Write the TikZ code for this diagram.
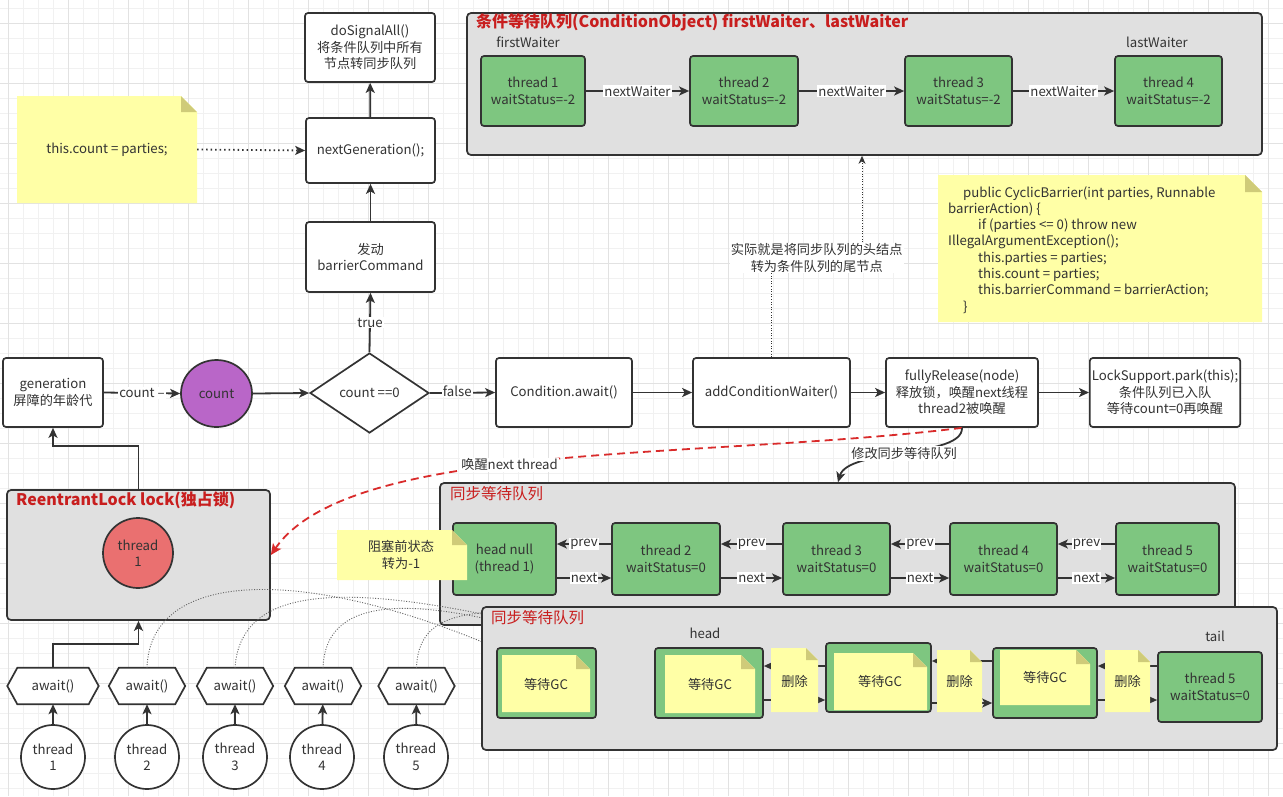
\documentclass[tikz,border=0pt]{standalone}
\usepackage{fontspec}
\setmainfont{Noto Sans CJK SC}
\usetikzlibrary{arrows.meta,shapes.geometric,calc}
\definecolor{dk}{HTML}{333333}
\definecolor{txt}{HTML}{333333}
\definecolor{gfill}{HTML}{7EC680}
\definecolor{contf}{HTML}{E0E0E0}
\definecolor{notef}{HTML}{FFFFA6}
\definecolor{foldf}{HTML}{CFCB79}
\definecolor{ttl}{HTML}{C81E1E}
\definecolor{purp}{HTML}{B966C8}
\definecolor{redc}{HTML}{EA7070}
\definecolor{redl}{HTML}{D92B2B}
\definecolor{gmin}{HTML}{F1F1F1}
\definecolor{gmaj}{HTML}{E2E2E2}
\definecolor{dotc}{HTML}{666666}
\newcommand\fs{\fontsize{13.2}{16.5}\selectfont}
\newcommand\ttlf{\fontsize{16}{19}\selectfont\bfseries}
\newcommand\ttlr{\fontsize{15.5}{19}\selectfont}
\newcommand\codef{\fontsize{13.2}{16.3}\selectfont}
\newcommand\mynote[5]{%
  \fill[notef] (#1,#2) -- ({#3-#5},#2) -- (#3,{#2+#5}) -- (#3,#4) -- (#1,#4) -- cycle;
  \fill[foldf] ({#3-#5},#2) -- (#3,{#2+#5}) -- ({#3-#5},{#2+#5}) -- cycle;}
\newcommand\hexa[2]{\draw[draw=dk, line width=1.7pt, fill=white] (#1.west) -- ([xshift=#2]#1.north west) -- ([xshift=-#2]#1.north east) -- (#1.east) -- ([xshift=-#2]#1.south east) -- ([xshift=#2]#1.south west) -- cycle;}
\tikzset{
  base/.style={draw=dk, line width=1.7pt, rounded corners=3pt, align=center, text=txt, font=\fs, inner sep=2pt},
  wbox/.style={base, fill=white},
  gbox/.style={base, fill=gfill},
  cont/.style={draw=dk, line width=1.7pt, rounded corners=4pt, fill=contf},
  arr/.style={draw=dk, line width=1.8pt, -{Stealth[length=10pt,width=9pt,inset=2.5pt]}},
  wl/.style={fill=white, inner sep=1pt, text=txt, font=\fs, align=center},
  plain/.style={text=txt, font=\fs, align=center, inner sep=0pt},
  dotarr/.style={draw=dk, line width=0.9pt, dash pattern=on 1pt off 1.6pt, -{Stealth[length=8pt,width=7pt]}},
  dotcurve/.style={draw=dotc, line width=0.9pt, dash pattern=on 1pt off 1.6pt},
  thr/.style={circle, draw=dk, line width=1.7pt, fill=white, minimum size=64pt, align=center, font=\fs, text=txt, inner sep=0pt},
  hexn/.style={minimum height=36pt, inner sep=0pt},
}
\begin{document}
\begin{tikzpicture}[x=1pt,y=-1pt]
\useasboundingbox (0,0) rectangle (1283,796);
\fill[white] (0,0) rectangle (1283,796);
% grid
\foreach \xx in {8.3,23.3,...,1283} {\draw[gmin, line width=0.75pt] (\xx,0) -- (\xx,796);}
\foreach \yy in {8.3,23.3,...,796} {\draw[gmin, line width=0.75pt] (0,\yy) -- (1283,\yy);}
\foreach \xx in {8.3,68.3,...,1283} {\draw[gmaj, line width=0.75pt] (\xx,0) -- (\xx,796);}
\foreach \yy in {23.3,83.3,...,796} {\draw[gmaj, line width=0.75pt] (0,\yy) -- (1283,\yy);}

% ---------- condition queue ----------
\node[cont, minimum width=795pt, minimum height=142pt] (cq) at (864.5,84) {};
\node[anchor=west, text=ttl, font=\ttlf, inner sep=0pt] (cqt) at (476,22) {条件等待队列(ConditionObject) firstWaiter、lastWaiter};
\node[plain] (fw) at (528,42) {firstWaiter};
\node[plain] (lw) at (1157,42) {lastWaiter};
\node[gbox, minimum width=104pt, minimum height=70pt] (c1) at (533,91) {thread 1\\waitStatus=-2};
\node[gbox, minimum width=108pt, minimum height=70pt] (c2) at (744,91) {thread 2\\waitStatus=-2};
\node[gbox, minimum width=107pt, minimum height=70pt] (c3) at (958.5,91) {thread 3\\waitStatus=-2};
\node[gbox, minimum width=107pt, minimum height=70pt] (c4) at (1168.5,91) {thread 4\\waitStatus=-2};
\draw[arr] (c1) -- node[wl]{nextWaiter} (c2);
\draw[arr] (c2) -- node[wl]{nextWaiter} (c3);
\draw[arr] (c3) -- node[wl]{nextWaiter} (c4);

% ---------- top column ----------
\node[wbox, minimum width=130pt, minimum height=69pt] (dsa) at (370,47.5) {doSignalAll()\\将条件队列中所有\\节点转同步队列};
\node[wbox, minimum width=129pt, minimum height=65pt] (ng) at (370.5,150.5) {nextGeneration();};
\node[wbox, minimum width=129pt, minimum height=70pt] (bc) at (370.5,257) {发动\\barrierCommand};
\draw[arr] (ng) -- (dsa);
\draw[arr] (bc) -- (ng);

% note this.count
\mynote{17}{96}{197}{203}{16}
\node[plain, minimum width=180pt, minimum height=107pt] (nc) at (107,149.5) {this.count = parties;};
\draw[draw=dk, line width=1.8pt, dash pattern=on 1.5pt off 3pt, -{Stealth[length=10pt,width=9pt,inset=2.5pt]}] (nc.east) -- (ng.west);

% code note
\mynote{938}{175}{1262}{322}{17}
\node[anchor=north west, align=left, text=txt, font=\codef, inner sep=0pt] (code) at (948,186) {\hspace*{15pt}public CyclicBarrier(int parties, Runnable\\barrierAction) \{\\\hspace*{30pt}if (parties <= 0) throw new\\IllegalArgumentException();\\\hspace*{30pt}this.parties = parties;\\\hspace*{30pt}this.count = parties;\\\hspace*{30pt}this.barrierCommand = barrierAction;\\\hspace*{15pt}\}};

% ---------- middle row ----------
\node[wbox, minimum width=100pt, minimum height=69pt] (gen) at (53,392.5) {generation\\屏障的年龄代};
\node[ellipse, draw=dk, line width=1.7pt, fill=purp, minimum width=71pt, minimum height=67pt, inner sep=0pt, text=txt, font=\fs] (cnt) at (216.5,393.5) {count};
\node[diamond, draw=dk, line width=1.7pt, fill=white, minimum width=119pt, minimum height=80pt, aspect=1.5, inner sep=0pt, text=txt, font=\fs] (dia) at (369.5,393) {count ==0};
\node[wbox, minimum width=136pt, minimum height=69pt] (ca) at (564,392.5) {Condition.await()};
\node[wbox, minimum width=157pt, minimum height=69pt] (acw) at (771.5,392.5) {addConditionWaiter()};
\node[wbox, minimum width=152pt, minimum height=69pt] (fr) at (962,392.5) {fullyRelease(node)\\释放锁，唤醒next线程\\thread2被唤醒};
\node[wbox, minimum width=142pt, minimum height=69pt] (lsp) at (1165,392.5) {LockSupport.park(this);\\条件队列已入队\\等待count=0再唤醒};
\draw[arr] (gen.east) -- node[wl]{count --} (cnt.west);
\draw[arr] (cnt.east) -- (dia.west);
\draw[arr] (dia.north) -- node[wl]{true} (bc.south);
\draw[arr] (dia.east) -- node[wl, pos=0.42, yshift=2pt]{false} (ca.west);
\draw[arr] (ca) -- (acw);
\draw[arr] (acw) -- (fr);
\draw[arr] (fr) -- (lsp);
\draw[dotarr] (acw.north) -- (acw.north |- 0,258) -| node[pos=0.25, wl]{实际就是将同步队列的头结点\\转为条件队列的尾节点} (cq.south -| 862,0);

% ---------- lock box ----------
\node[cont, minimum width=263pt, minimum height=130pt] (lock) at (138.5,555) {};
\node[anchor=west, text=ttl, font=\ttlf, inner sep=0pt] (lockt) at (16,500) {ReentrantLock lock(独占锁)};
\node[circle, draw=dk, line width=1.7pt, fill=redc, minimum size=70pt, inner sep=0pt, align=center, text=txt, font=\fs] (rt1) at (138,553) {thread\\1};
\draw[arr] (lock.north) -- ++(0,-43) -| (gen.south);

% ---------- sync queue 1 ----------
\node[cont, minimum width=795pt, minimum height=142pt] (sy1) at (837.5,554) {};
\node[anchor=west, text=ttl, font=\ttlr, inner sep=0pt] (sy1t) at (450,494) {同步等待队列};
\node[gbox, minimum width=103pt, minimum height=72pt] (hn) at (504.5,559) {head null\\(thread 1)};
\node[gbox, minimum width=108pt, minimum height=72pt] (s2) at (666,559) {thread 2\\waitStatus=0};
\node[gbox, minimum width=107pt, minimum height=72pt] (s3) at (836.5,559) {thread 3\\waitStatus=0};
\node[gbox, minimum width=107pt, minimum height=72pt] (s4) at (1003.5,559) {thread 4\\waitStatus=0};
\node[gbox, minimum width=103pt, minimum height=72pt] (s5) at (1167.5,559) {thread 5\\waitStatus=0};
\foreach \a/\b in {hn/s2, s2/s3, s3/s4, s4/s5} {
  \draw[arr] ([yshift=15pt]\b.west) -- node[wl]{prev} ([yshift=15pt]\a.east);
  \draw[arr] ([yshift=-19pt]\a.east) -- node[wl]{next} ([yshift=-19pt]\b.west);
}
\mynote{337}{530}{467}{580}{15}
\node[plain] (blk) at (401,555) {阻塞前状态\\转为-1};

% ---------- awaits and threads ----------
\node[hexn, minimum width=91pt] (a1) at (53,686) {};
\node[hexn, minimum width=76pt] (a2) at (147,686) {};
\node[hexn, minimum width=76pt] (a3) at (235,686) {};
\node[hexn, minimum width=76pt] (a4) at (323,686) {};
\node[hexn, minimum width=76pt] (a5) at (416.5,686) {};
\foreach \h in {a1,a2,a3,a4,a5} {\hexa{\h}{10pt} \node[plain] at (\h) {await()};}
\node[thr] (t1) at (53,757) {thread\\1};
\node[thr] (t2) at (147,757) {thread\\2};
\node[thr] (t3) at (235,757) {thread\\3};
\node[thr] (t4) at (322,757) {thread\\4};
\node[thr] (t5) at (416,757) {thread\\5};
\foreach \i in {1,...,5} {\draw[arr] (t\i) -- (a\i);}
\draw[arr] (a1.north) -- ++(0,-24) -| (lock.south);

% dotted curves
\draw[dotcurve] (a2.north) .. controls (150,570) and (300,565) .. (492,646);
\draw[dotcurve] (a3.north) .. controls (240,595) and (320,580) .. (492,616);
\draw[dotcurve] (a4.north) .. controls (325,610) and (380,595) .. (492,620);
\draw[dotcurve] (a5.north) .. controls (418,630) and (440,615) .. (492,612);

% ---------- sync queue 2 ----------
\node[cont, minimum width=795pt, minimum height=143pt] (sy2) at (879.5,678.5) {};
\node[anchor=west, text=ttl, font=\ttlr, inner sep=0pt] (sy2t) at (491,618) {同步等待队列};
\node[plain] (hd) at (705,633) {head};
\node[plain] (tl) at (1215,636) {tail};
\node[gbox, minimum width=99pt, minimum height=70pt] (g1) at (546.5,683) {};
\node[gbox, minimum width=108pt, minimum height=70pt] (g2) at (709,683) {};
\node[gbox, minimum width=105pt, minimum height=69pt] (g3) at (878.5,677.5) {};
\node[gbox, minimum width=104pt, minimum height=70pt] (g4) at (1045,683) {};
\node[gbox, minimum width=104pt, minimum height=70pt] (g5) at (1210,687) {thread 5\\waitStatus=0};
\draw[arr] (g3.west |- 0,666) -- (g2.east |- 0,666);
\draw[arr] (g2.east |- 0,700) -- (g3.west |- 0,700);
\draw[arr] (g4.west |- 0,661) -- (g3.east |- 0,661);
\draw[arr] (g3.east |- 0,703) -- (g4.west |- 0,703);
\draw[arr] (g5.west |- 0,666) -- (g4.east |- 0,666);
\draw[arr] (g4.east |- 0,700) -- (g5.west |- 0,700);
\mynote{502}{655}{590}{712}{14}
\node[plain] (gc1) at (546,684) {等待GC};
\mynote{665}{655}{755}{713}{14}
\node[plain] (gc2) at (710,684) {等待GC};
\mynote{834}{653}{927}{710}{14}
\node[plain] (gc3) at (880,681) {等待GC};
\mynote{1000}{650}{1090}{705}{14}
\node[plain] (gc4) at (1045,677) {等待GC};
\mynote{771}{648}{818}{712}{12}
\node[plain] (del1) at (794.5,681) {删除};
\mynote{937}{650}{982}{712}{12}
\node[plain] (del2) at (959.5,681) {删除};
\mynote{1105}{650}{1150}{712}{12}
\node[plain] (del3) at (1127.5,681) {删除};

% ---------- curved connectors ----------
\draw[draw=redl, line width=1.8pt, dash pattern=on 8pt off 5pt, -{Stealth[length=11pt,width=10pt,inset=2.5pt]}] (fr.south) .. controls (700,460) and (350,440) .. node[pos=0.55, wl]{唤醒next thread} (lock.east);
\draw[arr] (fr.south) .. controls (963,458) and (848,448) .. node[pos=0.5, wl]{修改同步等待队列} (sy1.north -| 838,0);
\end{tikzpicture}
\end{document}
